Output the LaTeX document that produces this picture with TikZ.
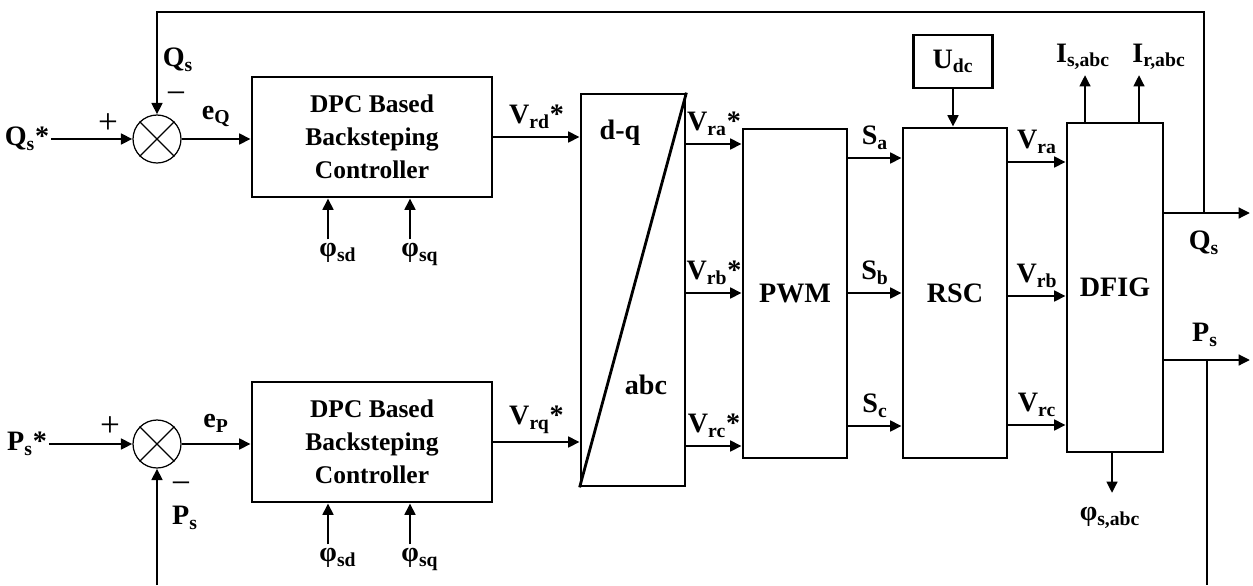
\documentclass[tikz,border=0pt]{standalone}
\usepackage{fontspec}
\setmainfont{Liberation Serif}
\usepackage{tikz}
\usetikzlibrary{positioning,arrows.meta}
\newcommand{\lblfont}{\fontsize{16}{19}\selectfont\bfseries}
\newcommand{\ctlfont}{\fontsize{14.5}{18.8}\selectfont\bfseries}
\newcommand{\sgnfont}{\fontsize{20}{22}\selectfont\mdseries}
\tikzset{
  blk/.style     = {draw, line width=1.6pt, align=center, font=\lblfont, inner sep=0pt},
  ctrl/.style    = {blk, font=\ctlfont, minimum width=4.8cm, minimum height=2.4cm},
  sumnode/.style = {draw, circle, line width=0.7pt, minimum size=0.96cm, inner sep=0pt},
  sig/.style     = {-{Triangle[length=6.5pt,width=6pt]}, line width=1.6pt},
  wire/.style    = {line width=1.6pt},
  lab/.style     = {font=\lblfont, inner sep=1pt},
  sgn/.style     = {font=\sgnfont, inner sep=0pt},
}

\begin{document}
\begin{tikzpicture}[x=0.02cm, y=-0.02cm]
  \useasboundingbox (0,0) rectangle (1253,585);

  % summing junctions
  \node[sumnode] (sumQ) at (157,139) {};
  \node[sumnode] (sumP) at (157,444) {};
  \foreach \s in {sumQ,sumP}{
    \draw[line width=0.7pt] (\s.45) -- (\s.225) (\s.135) -- (\s.-45);
  }

  % blocks
  \node[ctrl] (ctrlQ) at (372,137) {DPC Based\\Backsteping\\Controller};
  \node[ctrl] (ctrlP) at (372,442) {DPC Based\\Backsteping\\Controller};
  \node[blk, minimum width=2.08cm, minimum height=7.84cm] (dq) at (633,290) {};
  \draw[wire] (dq.north east) -- (dq.south west);
  \node[lab] (dqtxt) at (620,133) {d-q};
  \node[lab] (abctxt) at (646,385) {abc};
  \node[blk, minimum width=2.08cm, minimum height=6.58cm] (pwm) at (795,293.5) {PWM};
  \node[blk, minimum width=2.08cm, minimum height=6.6cm] (rsc) at (955,293) {RSC};
  \node[blk, minimum width=1.58cm, minimum height=1.06cm] (udc) at (953,61.5) {U\textsubscript{dc}};
  \node[blk, minimum width=1.92cm, minimum height=6.58cm] (dfig) at (1115,287.5) {DFIG};

  % levels of the three phases
  \coordinate (ya) at (0,144);
  \coordinate (yb) at (0,293);
  \coordinate (yc) at (0,446);
  \coordinate (sa) at (0,158);
  \coordinate (sc) at (0,426);
  \coordinate (va) at (0,162);
  \coordinate (vb) at (0,296);
  \coordinate (vc) at (0,425);

  % references and errors
  \node[lab] (qsref) at (27,139) {Q\textsubscript{s}*};
  \node[lab] (psref) at (27,444) {P\textsubscript{s}*};
  \draw[sig] (qsref.east) -- (sumQ.west);
  \draw[sig] (psref.east) -- (sumP.west);
  \node[sgn] (plusQ) at (108,124) {+};
  \node[sgn] (plusP) at (110,427) {+};
  \node[sgn] (minQ) at (176,98) {−};
  \node[sgn] (minP) at (181,488) {−};
  \node[lab] (qsfb) at (178,60) {Q\textsubscript{s}};
  \node[lab] (psfb) at (185,518) {P\textsubscript{s}};
  \draw[sig] (sumQ) -- (sumQ -| ctrlQ.west) node[lab, midway, above=5pt] {e\textsubscript{Q}};
  \draw[sig] (sumP) -- (sumP -| ctrlP.west) node[lab, midway, above=5pt] {e\textsubscript{P}};

  % flux inputs
  \foreach \c/\x/\t in {ctrlQ/328/sd, ctrlQ/410/sq, ctrlP/328/sd, ctrlP/410/sq}{
    \coordinate (f) at ([yshift=-0.82cm]\c.south -| \x,0);
    \draw[sig] (f) -- (f |- \c.south);
    \node[lab, below=1pt of f, xshift=0.2cm] {φ\textsubscript{\t}};
  }

  % controller outputs
  \draw[sig] (ctrlQ.east) -- (ctrlQ.east -| dq.west) node[lab, midway, above=3pt] {V\textsubscript{rd}*};
  \draw[sig] (ctrlP.east) -- (ctrlP.east -| dq.west) node[lab, midway, above=3pt] {V\textsubscript{rq}*};

  % dq/abc -> PWM
  \draw[sig] (ya -| dq.east) -- (ya -| pwm.west) node[lab, midway, above=3pt] {V\textsubscript{ra}*};
  \draw[sig] (yb -| dq.east) -- (yb -| pwm.west) node[lab, midway, above=3pt] {V\textsubscript{rb}*};
  \draw[sig] (yc -| dq.east) -- (yc -| pwm.west) node[lab, midway, above=3pt] {V\textsubscript{rc}*};

  % PWM -> RSC
  \draw[sig] (sa -| pwm.east) -- (sa -| rsc.west) node[lab, midway, above=3pt] {S\textsubscript{a}};
  \draw[sig] (yb -| pwm.east) -- (yb -| rsc.west) node[lab, midway, above=3pt] {S\textsubscript{b}};
  \draw[sig] (sc -| pwm.east) -- (sc -| rsc.west) node[lab, midway, above=3pt] {S\textsubscript{c}};
  \draw[sig] (udc.south) -- (udc.south |- rsc.north);

  % RSC -> DFIG
  \draw[sig] (va -| rsc.east) -- (va -| dfig.west) node[lab, midway, above=3pt] {V\textsubscript{ra}};
  \draw[sig] (vb -| rsc.east) -- (vb -| dfig.west) node[lab, midway, above=3pt] {V\textsubscript{rb}};
  \draw[sig] (vc -| rsc.east) -- (vc -| dfig.west) node[lab, midway, above=3pt] {V\textsubscript{rc}};

  % DFIG measurements
  \coordinate (isup) at (1085,75);
  \coordinate (irup) at (1139,75);
  \coordinate (phdn) at (1112,493);
  \draw[sig] (isup |- dfig.north) -- (isup);
  \draw[sig] (irup |- dfig.north) -- (irup);
  \draw[sig] (phdn |- dfig.south) -- (phdn);
  \node[lab] (istxt) at (1083,57) {I\textsubscript{s,abc}};
  \node[lab] (irtxt) at (1159,57) {I\textsubscript{r,abc}};
  \node[lab] (phtxt) at (1110,518) {φ\textsubscript{s,abc}};

  % outputs and feedback
  \coordinate (qend) at (1250,213);
  \coordinate (pend) at (1250,360);
  \coordinate (qtap) at (1204,213);
  \coordinate (ptap) at (1207,360);
  \coordinate (fbtop) at (0,12);
  \coordinate (fbbot) at (0,585);
  \draw[sig] (qend -| dfig.east) -- (qend);
  \draw[sig] (pend -| dfig.east) -- (pend);
  \node[lab] (qsout) at (1204,243) {Q\textsubscript{s}};
  \node[lab] (psout) at (1205,335) {P\textsubscript{s}};
  \draw[sig] (qtap) |- (fbtop -| sumQ.north) -- (sumQ.north);
  \draw[wire] (ptap) -- (ptap |- fbbot);
  \draw[sig] (sumP.south |- fbbot) -- (sumP.south);
\end{tikzpicture}
\end{document}
